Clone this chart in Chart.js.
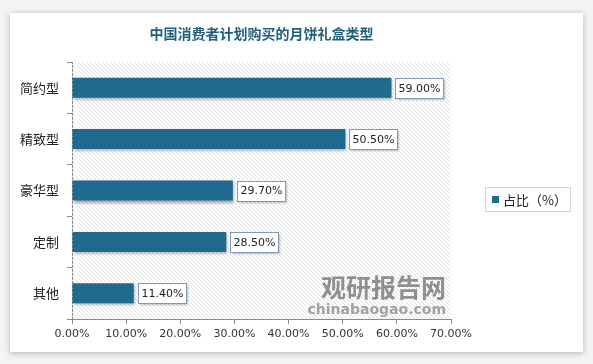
<!DOCTYPE html>
<html>
<head>
<meta charset="utf-8">
<script src="https://cdn.jsdelivr.net/npm/chart.js"></script>
<style>
  html, body { margin:0; padding:0; background:#f4f4f4; }
  #card { position:absolute; left:10px; top:13px; width:573px; height:339px; background:#fff; box-shadow:0 1px 6px rgba(0,0,0,0.28); }
  #wrap { position:absolute; left:0; top:0; width:593px; height:364px; }
</style>
</head>
<body>
<div id="card"></div>
<div id="wrap"><canvas id="barChart" width="593" height="364"></canvas></div>
<script>
var titleText = "中国消费者计划购买的月饼礼盒类型";
var categories = ["简约型", "精致型", "豪华型", "定制", "其他"];
var shares = [59.0, 50.5, 29.7, 28.5, 11.4];
var seriesName = "占比（%）";
var xMin = 0;
var xMax = 70;
var xStep = 10;

var barColor = "#1f6a8e";
var cjk = "'Noto Sans CJK SC', sans-serif";
var latin = "'DejaVu Sans', sans-serif";

// diagonal hatch for the plot background
function makeHatch() {
  var c = document.createElement("canvas");
  c.width = 4; c.height = 4;
  var g = c.getContext("2d");
  g.strokeStyle = "#e0e0e0";
  g.lineWidth = 1;
  g.beginPath();
  g.moveTo(0, 0); g.lineTo(4, 4);
  g.moveTo(-1, 3); g.lineTo(1, 5);
  g.moveTo(3, -1); g.lineTo(5, 1);
  g.stroke();
  return g.createPattern(c, "repeat");
}

var decorPlugin = {
  id: "decor",
  beforeDatasetsDraw: function(chart) {
    var ctx = chart.ctx, a = chart.chartArea;
    ctx.save();
    ctx.fillStyle = makeHatch();
    ctx.fillRect(a.left, a.top, a.right - a.left, a.bottom - a.top);

    // watermark
    ctx.fillStyle = "rgba(125,125,125,0.85)";
    ctx.font = "bold 25px " + cjk;
    ctx.textAlign = "right";
    ctx.textBaseline = "middle";
    ctx.fillText("观研报告网", 446, 287);
    ctx.font = "bold 14px " + latin;
    ctx.fillStyle = "rgba(140,140,140,0.8)";
    ctx.fillText("chinabaogao.com", 446, 310);
    ctx.restore();

    // bar shadow
    ctx.save();
    ctx.shadowColor = "rgba(0,0,0,0.35)";
    ctx.shadowBlur = 3;
    ctx.shadowOffsetX = 1;
    ctx.shadowOffsetY = 2;
  },
  afterDatasetsDraw: function(chart) {
    var ctx = chart.ctx;
    ctx.restore();

    var meta = chart.getDatasetMeta(0);
    ctx.save();
    ctx.font = "11px " + latin;
    ctx.textBaseline = "middle";
    ctx.textAlign = "left";
    meta.data.forEach(function(bar, i) {
      var txt = shares[i].toFixed(2) + "%";
      var tw = ctx.measureText(txt).width;
      var bx = Math.round(bar.x + 4) + 0.5;
      var by = Math.round(bar.y - 10) + 0.5;
      var bw = Math.round(tw + 6);
      ctx.shadowColor = "rgba(0,0,0,0.25)";
      ctx.shadowBlur = 2;
      ctx.shadowOffsetX = 1;
      ctx.shadowOffsetY = 1;
      ctx.fillStyle = "#fff";
      ctx.fillRect(bx, by, bw, 20);
      ctx.shadowColor = "transparent";
      ctx.strokeStyle = "#8299b4";
      ctx.lineWidth = 1;
      ctx.strokeRect(bx, by, bw, 20);
      ctx.fillStyle = "#222";
      ctx.fillText(txt, bx + 3, bar.y + 1);
    });
    ctx.restore();
  },
  afterDraw: function(chart) {
    var ctx = chart.ctx, a = chart.chartArea;
    ctx.save();
    // title
    ctx.font = "bold 14px " + cjk;
    ctx.fillStyle = "#1f5f7c";
    ctx.textAlign = "center";
    ctx.textBaseline = "middle";
    ctx.fillText(titleText, (a.left + a.right) / 2, 34);

    // legend
    ctx.strokeStyle = "#d4d4d4";
    ctx.lineWidth = 1;
    ctx.strokeRect(485.5, 187.5, 85, 24);
    ctx.fillStyle = barColor;
    ctx.fillRect(492, 196, 7, 7);
    ctx.fillStyle = "#222";
    ctx.font = "13px " + cjk;
    ctx.textAlign = "left";
    ctx.fillText(seriesName, 503, 200);
    ctx.restore();
  }
};

Chart.defaults.font.family = latin;
Chart.defaults.color = "#333";

var chartData = {
  labels: categories,
  datasets: [{
    label: seriesName,
    data: shares,
    backgroundColor: barColor,
    borderWidth: 0,
    barPercentage: 0.78,
    categoryPercentage: 0.5
  }]
};

var chartOptions = {
  indexAxis: "y",
  responsive: false,
  animation: false,
  devicePixelRatio: 1,
  layout: { padding: { top: 62, right: 142, bottom: 15, left: 0 } },
  plugins: {
    legend: { display: false },
    title: { display: false },
    tooltip: { enabled: false }
  },
  scales: {
    x: {
      type: "linear",
      min: xMin,
      max: xMax,
      ticks: {
        stepSize: xStep,
        padding: 4,
        color: "#333",
        font: { size: 11, family: latin },
        callback: function(v) { return v.toFixed(2) + "%"; }
      },
      grid: { drawOnChartArea: false, tickLength: 5, color: "#8a8a8a" },
      border: { color: "#8a8a8a" },
      afterFit: function(s) { s.height = 30; }
    },
    y: {
      type: "category",
      ticks: {
        padding: 8,
        color: "#222",
        font: { size: 13, family: cjk }
      },
      grid: { offset: true, drawOnChartArea: false, tickLength: 5, color: "#8a8a8a" },
      border: { color: "#8a8a8a" },
      afterFit: function(s) { s.width = 72; }
    }
  }
};

var barChart = new Chart(document.getElementById("barChart"), {
  type: "bar",
  data: chartData,
  options: chartOptions,
  plugins: [decorPlugin]
});
</script>
</body>
</html>
